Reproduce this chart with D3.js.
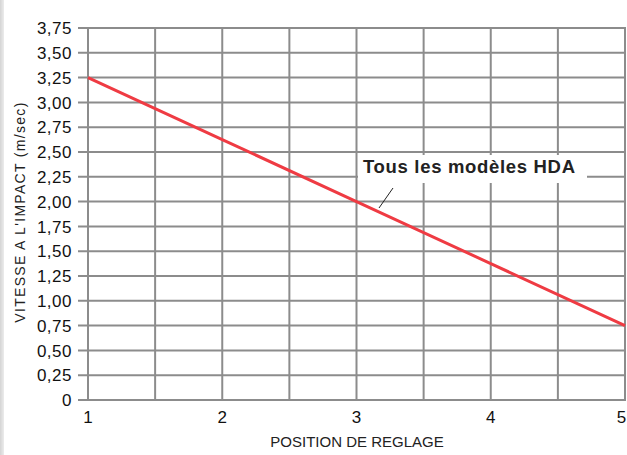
<!DOCTYPE html>
<html><head><meta charset="utf-8">
<script src="https://cdn.jsdelivr.net/npm/d3@7"></script>
<style>
html,body{margin:0;padding:0;background:#fff;}
svg{display:block;font-family:"Liberation Sans",Arial,Helvetica,sans-serif;}
</style></head>
<body>
<script>
const positions = [1, 2, 3, 4, 5];
const speeds = [3.25, 2.625, 2.0, 1.375, 0.75];
const yTicks = [0, 0.25, 0.5, 0.75, 1, 1.25, 1.5, 1.75, 2, 2.25, 2.5, 2.75, 3, 3.25, 3.5, 3.75];
const xTicks = [1, 2, 3, 4, 5];
const xGrid = [1, 1.5, 2, 2.5, 3, 3.5, 4, 4.5, 5];
const seriesLabel = "Tous les modèles HDA";
const xTitle = "POSITION DE REGLAGE";
const yTitle = "VITESSE A L'IMPACT (m/sec)";

const W = 627, H = 455;
const svg = d3.select("body").append("svg").attr("width", W).attr("height", H);

// left gray strip
const grad = svg.append("defs").append("linearGradient").attr("id", "strip");
grad.append("stop").attr("offset", "0%").attr("stop-color", "#d4d4d4");
grad.append("stop").attr("offset", "100%").attr("stop-color", "#ececec");
svg.append("rect").attr("x", 0).attr("y", 0).attr("width", 4).attr("height", H).attr("fill", "url(#strip)");

const x = d3.scaleLinear().domain([1, 5]).range([88, 625]);
const y = d3.scaleLinear().domain([0, 3.75]).range([400, 28]);

const fmt = d => d === 0 ? "0" : d3.format(".2f")(d).replace(".", ",");
const grid = "#8c8c8c";

// horizontal grid
svg.append("g").selectAll("line").data(yTicks).join("line")
  .attr("x1", 78).attr("x2", x(5) + 1)
  .attr("y1", d => y(d)).attr("y2", d => y(d))
  .attr("stroke", grid).attr("stroke-width", 2);
// vertical grid
svg.append("g").selectAll("line").data(xGrid).join("line")
  .attr("x1", d => x(d)).attr("x2", d => x(d))
  .attr("y1", y(3.75) - 1).attr("y2", y(0) + 1)
  .attr("stroke", grid).attr("stroke-width", 2);

// y tick labels
svg.append("g").selectAll("text").data(yTicks).join("text")
  .attr("x", 72).attr("y", d => y(d)).attr("dy", "0.36em")
  .attr("text-anchor", "end").attr("font-size", 17).attr("letter-spacing", 0.5).attr("fill", "#111")
  .text(fmt);
// x tick labels
svg.append("g").selectAll("text").data(xTicks).join("text")
  .attr("x", d => Math.min(x(d), W - 5.5)).attr("y", 423)
  .attr("text-anchor", "middle").attr("font-size", 17).attr("fill", "#111")
  .text(d => d);

// label box
svg.append("rect").attr("x", 358).attr("y", 155).attr("width", 229).attr("height", 28).attr("fill", "#fff");
const lab = svg.append("text").attr("x", 363).attr("y", 173).attr("font-size", 18.5).attr("font-weight", "bold")
  .attr("fill", "#222").text(seriesLabel);
{
  const len = lab.node().getComputedTextLength();
  const target = 212;
  lab.attr("letter-spacing", Math.max(0, (target - len) / (seriesLabel.length - 1)));
}
// pointer
svg.append("line").attr("x1", 393).attr("y1", 188).attr("x2", 379).attr("y2", 208)
  .attr("stroke", "#222").attr("stroke-width", 1);

// line
const line = d3.line().x((d, i) => x(positions[i])).y(d => y(d));
svg.append("path").datum(speeds).attr("d", line)
  .attr("fill", "none").attr("stroke", "#ef3b43").attr("stroke-width", 3);

// titles
svg.append("text").attr("x", 357).attr("y", 447).attr("text-anchor", "middle")
  .attr("font-size", 15).attr("fill", "#222").text(xTitle);
const yt = svg.append("text").attr("transform", "translate(24.5,212) rotate(-90)").attr("text-anchor", "middle")
  .attr("font-size", 14).attr("fill", "#222").text(yTitle);
{
  const len = yt.node().getComputedTextLength();
  const target = 220;
  yt.attr("letter-spacing", Math.max(0, (target - len) / (yTitle.length - 1)));
}
</script>
</body></html>
